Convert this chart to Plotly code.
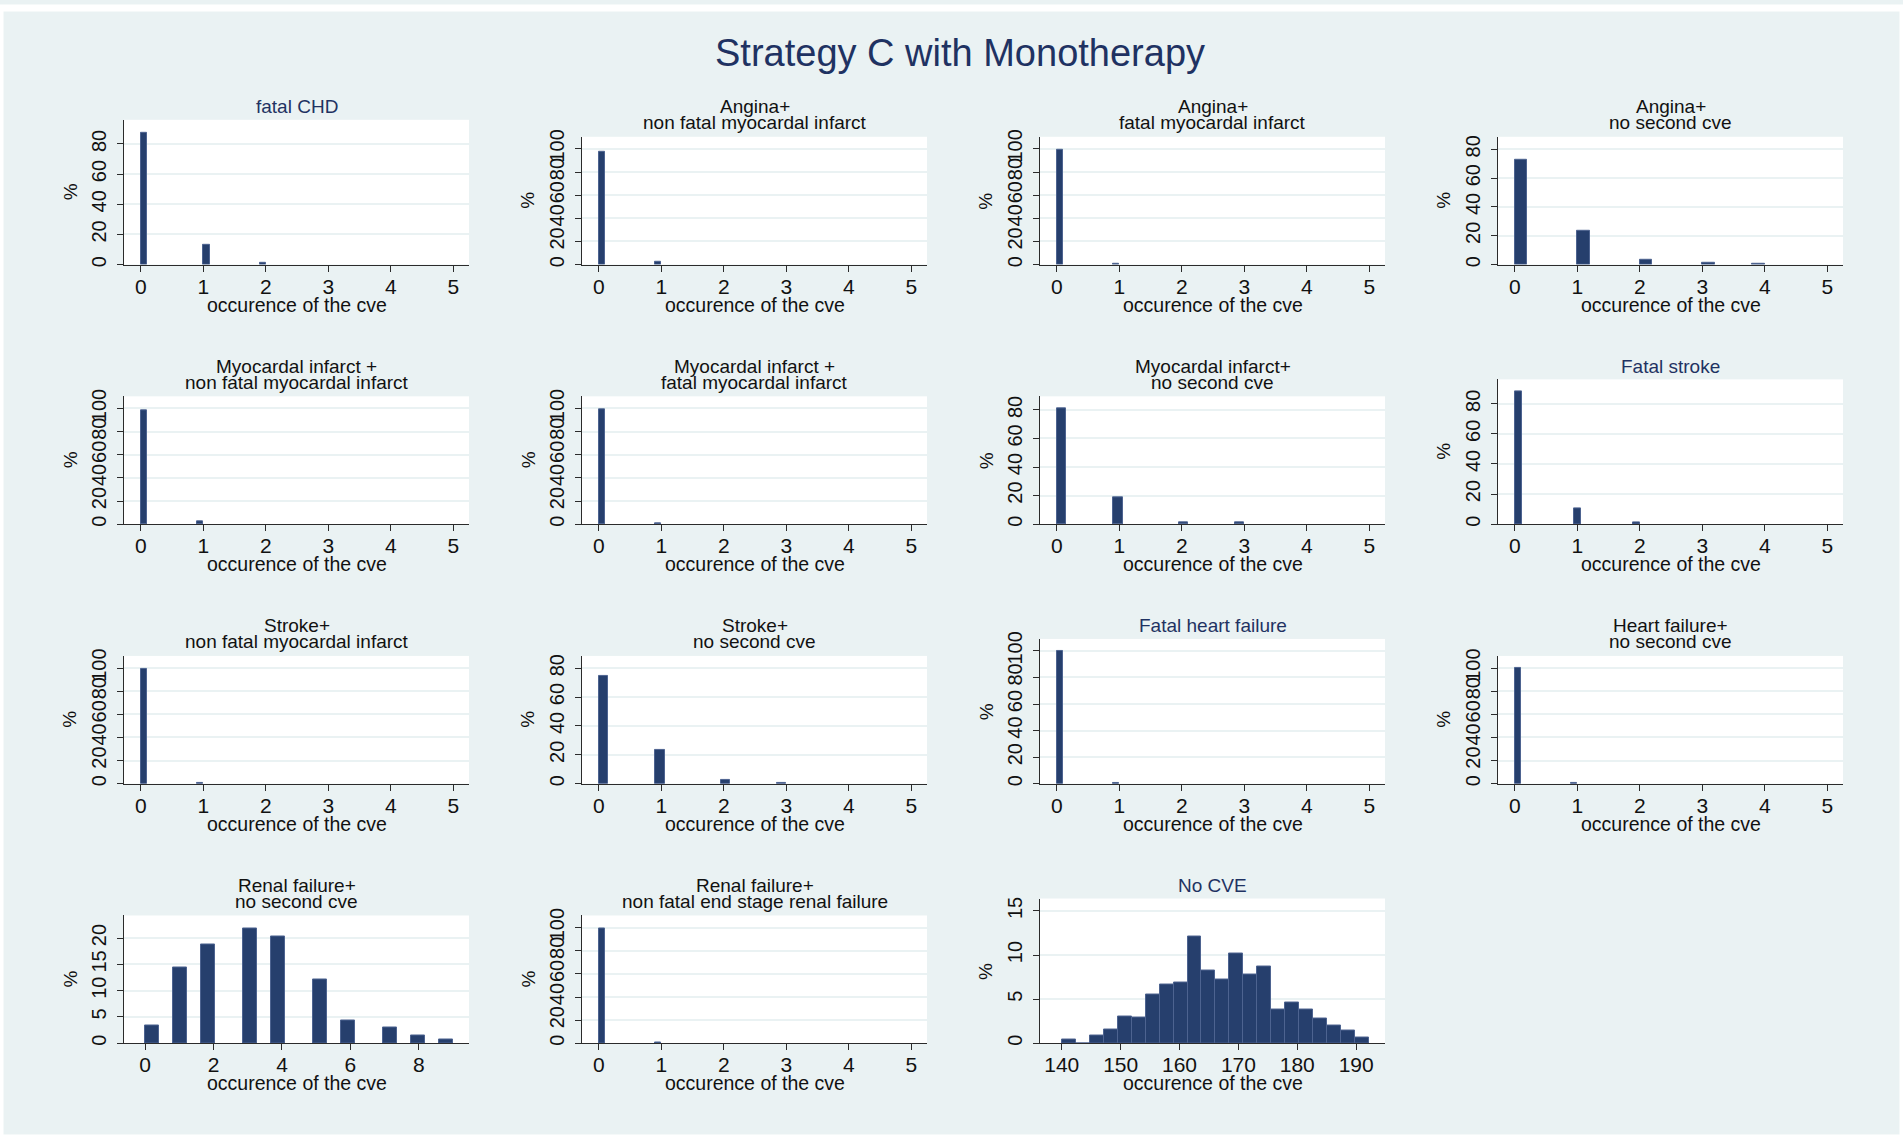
import numpy as np
import plotly.graph_objects as go

# ---------------- data (percent of simulations) ----------------
main_title = "Strategy C with Monotherapy"
x_title = "occurence of the cve"
y_title = "%"

titles = [
    ["fatal CHD"],
    ["Angina+", "non fatal myocardal infarct"],
    ["Angina+", "fatal myocardal infarct"],
    ["Angina+", "no second cve"],
    ["Myocardal infarct +", "non fatal myocardal infarct"],
    ["Myocardal infarct +", "fatal myocardal infarct"],
    ["Myocardal infarct+", "no second cve"],
    ["Fatal stroke"],
    ["Stroke+", "non fatal myocardal infarct"],
    ["Stroke+", "no second cve"],
    ["Fatal heart failure"],
    ["Heart failure+", "no second cve"],
    ["Renal failure+", "no second cve"],
    ["Renal failure+", "non fatal end stage renal failure"],
    ["No CVE"],
]

fatal_chd_vals = [0, 1, 2]
fatal_chd_pct = [87.6, 12.8, 0.9]
angina_nfmi_vals = [0, 1]
angina_nfmi_pct = [97.5, 2.5]
angina_fmi_vals = [0, 1]
angina_fmi_pct = [99.4, 0.6]
angina_none_vals = [0, 1, 2, 3, 4]
angina_none_pct = [72.6, 23.3, 3.1, 1.5, 0.8]
mi_nfmi_vals = [0, 1]
mi_nfmi_pct = [98.0, 2.0]
mi_fmi_vals = [0, 1]
mi_fmi_pct = [99.3, 0.7]
mi_none_vals = [0, 1, 2, 3]
mi_none_pct = [80.8, 18.8, 1.6, 1.0]
fatal_stroke_vals = [0, 1, 2]
fatal_stroke_pct = [88.2, 10.8, 1.0]
stroke_nfmi_vals = [0, 1]
stroke_nfmi_pct = [99.6, 0.4]
stroke_none_vals = [0, 1, 2, 3]
stroke_none_pct = [74.5, 23.2, 2.4, 0.6]
fatal_hf_vals = [0, 1]
fatal_hf_pct = [99.6, 0.4]
hf_none_vals = [0, 1]
hf_none_pct = [99.7, 0.3]
renal_none_vals = [0, 1, 2, 3, 4, 5, 6, 7, 8, 9]
renal_none_pct = [3.4, 14.5, 18.8, 21.8, 20.4, 12.1, 4.4, 3.0, 1.4, 0.7]
renal_esrf_vals = [0, 1]
renal_esrf_pct = [99.4, 0.6]
# No CVE: 22 histogram bins between min and max
no_cve_min = 140.0
no_cve_max = 192.2
no_cve_pct = [0.42, 0.0, 0.87, 1.52, 3.04, 2.89, 5.48, 6.65, 6.92, 12.05, 8.25,
              7.22, 10.19, 7.83, 8.71, 3.88, 4.64, 3.88, 2.81, 2.02, 1.48, 0.65]

tick_0_5 = [0, 1, 2, 3, 4, 5]
ticks_100 = [0, 20, 40, 60, 80, 100]
ticks_80 = [0, 20, 40, 60, 80]
ticks_renal_x = [0, 2, 4, 6, 8]
ticks_renal_y = [0, 5, 10, 15, 20]
ticks_nocve_x = [140, 150, 160, 170, 180, 190]
ticks_nocve_y = [0, 5, 10, 15]

# ---------------- styling ----------------
W, H = 1903, 1141
BG = "#eaf2f3"
BAR = "#263f6d"
BAR_EDGE = "#4d6390"
NAVY = "#1f3262"
FONT = "Liberation Sans, Arial, sans-serif"


def hist_bars(vals, pct, lo, hi, nbins):
    w = (hi - lo) / nbins
    v = np.asarray(vals, dtype=float)
    idx = np.clip(np.floor((v - lo) / w + 1e-9), 0, nbins - 1)
    return lo + (idx + 0.5) * w, list(pct), w


panels = [
    # vals, pct, lo, hi, nbins, xrange, xticks, yrange, yticks
    (fatal_chd_vals, fatal_chd_pct, 0, 2, 20, [-0.27, 5.25], tick_0_5, [0, 96], ticks_80),
    (angina_nfmi_vals, angina_nfmi_pct, 0, 1, 10, [-0.27, 5.25], tick_0_5, [0, 110.5], ticks_100),
    (angina_fmi_vals, angina_fmi_pct, 0, 1, 10, [-0.27, 5.25], tick_0_5, [0, 110.5], ticks_100),
    (angina_none_vals, angina_none_pct, 0, 4, 20, [-0.27, 5.25], tick_0_5, [0, 88.7], ticks_80),
    (mi_nfmi_vals, mi_nfmi_pct, 0, 1, 10, [-0.27, 5.25], tick_0_5, [0, 110.5], ticks_100),
    (mi_fmi_vals, mi_fmi_pct, 0, 1, 10, [-0.27, 5.25], tick_0_5, [0, 110.5], ticks_100),
    (mi_none_vals, mi_none_pct, 0, 3, 20, [-0.27, 5.25], tick_0_5, [0, 89.5], ticks_80),
    (fatal_stroke_vals, fatal_stroke_pct, 0, 2, 17, [-0.27, 5.25], tick_0_5, [0, 96.2], ticks_80),
    (stroke_nfmi_vals, stroke_nfmi_pct, 0, 1, 10, [-0.27, 5.25], tick_0_5, [0, 110.5], ticks_100),
    (stroke_none_vals, stroke_none_pct, 0, 3, 20, [-0.27, 5.25], tick_0_5, [0, 88.5], ticks_80),
    (fatal_hf_vals, fatal_hf_pct, 0, 1, 10, [-0.27, 5.25], tick_0_5, [0, 109], ticks_100),
    (hf_none_vals, hf_none_pct, 0, 1, 10, [-0.27, 5.25], tick_0_5, [0, 110.5], ticks_100),
    (renal_none_vals, renal_none_pct, 0, 9, 22, [-0.62, 9.47], ticks_renal_x, [0, 24.3], ticks_renal_y),
    (renal_esrf_vals, renal_esrf_pct, 0, 1, 10, [-0.27, 5.25], tick_0_5, [0, 110.5], ticks_100),
    (None, no_cve_pct, no_cve_min, no_cve_max, 22, [136.3, 194.9], ticks_nocve_x, [0, 16.4], ticks_nocve_y),
]

fig = go.Figure()
annotations = []


def px(x):
    return x / W


def py(y):
    # slight vertical compensation so rendered positions land on target pixels
    yy = (y - 7.0) / 0.992
    return 1 - yy / H


for i, (vals, pct, lo, hi, nb, xr, xt, yr, yt) in enumerate(panels):
    r, c = divmod(i, 4)
    left = 124 + 458 * c
    right = 469 + 458 * c
    bottom = 264 + 260 * r
    two = len(titles[i]) == 2
    top = bottom - (128 if two else 145)
    k = "" if i == 0 else str(i + 1)

    if vals is None:
        w = (hi - lo) / nb
        xs = [lo + (j + 0.5) * w for j in range(nb)]
        ys = pct
    else:
        xs, ys, w = hist_bars(vals, pct, lo, hi, nb)

    fig.add_trace(go.Bar(
        x=list(xs), y=ys, width=w, xaxis="x" + k, yaxis="y" + k,
        marker=dict(color=BAR, line=dict(color=BAR_EDGE, width=1)),
        showlegend=False, hoverinfo="x+y",
    ))

    axis_common = dict(
        showline=True, linecolor="#2b2b2b", linewidth=1, mirror=False,
        ticks="outside", ticklen=6, tickwidth=1, tickcolor="#2b2b2b",
        zeroline=False, fixedrange=True,
    )
    fig.layout["xaxis" + k] = dict(
        axis_common, domain=[px(left), px(right)], anchor="y" + k,
        range=xr, tickvals=xt, showgrid=False, ticklabelstandoff=-3,
        tickfont=dict(family=FONT, size=21, color="#111111"),
    )
    fig.layout["yaxis" + k] = dict(
        axis_common, domain=[py(bottom), py(top)], anchor="x" + k,
        range=yr, tickvals=yt, tickangle=-90, showgrid=True, ticklabelstandoff=3,
        gridcolor=BG, gridwidth=2,
        tickfont=dict(family=FONT, size=20, color="#111111"),
    )

    cx = (left + right) / 2
    tcolor = "#111111" if two else NAVY
    if two:
        lines = [(titles[i][0], top - 30), (titles[i][1], top - 14)]
    else:
        lines = [(titles[i][0], top - 13)]
    for txt, yy in lines:
        annotations.append(dict(
            text=txt, x=px(cx), y=py(yy), xref="paper", yref="paper",
            xanchor="center", yanchor="middle", showarrow=False,
            font=dict(family=FONT, size=19, color=tcolor),
        ))
    annotations.append(dict(
        text=y_title, x=px(left - 54), y=py((top + bottom) / 2), xref="paper", yref="paper",
        xanchor="center", yanchor="middle", showarrow=False, textangle=-90,
        font=dict(family=FONT, size=19, color="#111111"),
    ))
    annotations.append(dict(
        text=x_title, x=px(cx), y=py(bottom + 40), xref="paper", yref="paper",
        xanchor="center", yanchor="middle", showarrow=False,
        font=dict(family=FONT, size=19.5, color="#111111"),
    ))

annotations.append(dict(
    text=main_title, x=px(960), y=py(52), xref="paper", yref="paper",
    xanchor="center", yanchor="middle", showarrow=False,
    font=dict(family=FONT, size=38, color=NAVY),
))

fig.update_layout(
    width=W, height=H, autosize=False,
    margin=dict(l=0, r=0, t=0, b=0, pad=0),
    paper_bgcolor=BG, plot_bgcolor="white",
    annotations=annotations,
    bargap=0,
    shapes=[dict(type="rect", xref="paper", yref="paper", x0=0, y0=0, x1=1, y1=1,
                 line=dict(color="white", width=7), fillcolor="rgba(0,0,0,0)", layer="above")],
    showlegend=False,
)

fig.write_html(
    "out.html",
    config={"displayModeBar": False},
    post_script=(
        "document.documentElement.style.margin='0';document.body.style.margin='0';"
        "document.body.style.padding='0';document.body.style.overflow='hidden';"
        "var gd=document.getElementsByClassName('plotly-graph-div')[0];"
        "gd.style.position='fixed';gd.style.top='0px';gd.style.left='0px';"
    ),
)
